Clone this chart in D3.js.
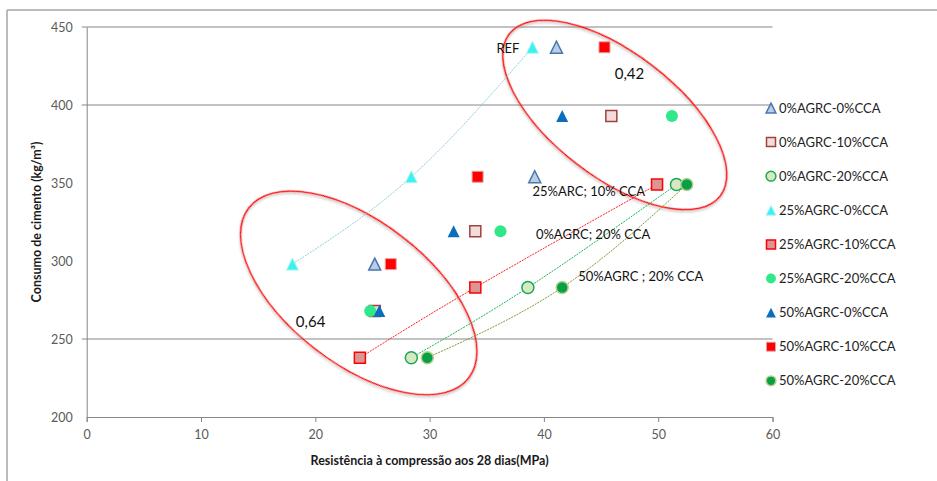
<!DOCTYPE html>
<html>
<head>
<meta charset="utf-8">
<script src="https://cdn.jsdelivr.net/npm/d3@7/dist/d3.min.js"></script>
<style>
  html, body { margin: 0; padding: 0; background: #fff; }
  svg { display: block; font-family: "Lato", "Liberation Sans", sans-serif; }
</style>
</head>
<body>
<svg id="chart" width="937" height="481"></svg>
<script>
// Axis ticks and gridlines
const xTicks = [0, 10, 20, 30, 40, 50, 60];
const yTicks = [200, 250, 300, 350, 400, 450];
const yGrid = [250, 400, 450];

// Series: compressive strength at 28 days (MPa) vs cement content (kg/m³)
const seriesNames = [
  "0%AGRC-0%CCA", "0%AGRC-10%CCA", "0%AGRC-20%CCA",
  "25%AGRC-0%CCA", "25%AGRC-10%CCA", "25%AGRC-20%CCA",
  "50%AGRC-0%CCA", "50%AGRC-10%CCA", "50%AGRC-20%CCA"
];
const strength_0A_0C = [41.1, 39.2, 25.2];
const cement_0A_0C = [437, 354, 298];
const strength_0A_10C = [45.9, 34.0, 25.2];
const cement_0A_10C = [393, 319, 268];
const strength_0A_20C = [51.6, 38.6, 28.4];
const cement_0A_20C = [349, 283, 238];
const strength_25A_0C = [39.0, 28.4, 18.0];
const cement_25A_0C = [437, 354, 298];
const strength_25A_10C = [49.9, 34.0, 23.9];
const cement_25A_10C = [349, 283, 238];
const strength_25A_20C = [51.2, 36.2, 24.8];
const cement_25A_20C = [393, 319, 268];
const strength_50A_0C = [41.6, 32.1, 25.6];
const cement_50A_0C = [393, 319, 268];
const strength_50A_10C = [45.3, 34.2, 26.6];
const cement_50A_10C = [437, 354, 298];
const strength_50A_20C = [52.5, 41.6, 29.8];
const cement_50A_20C = [349, 283, 238];

const seriesX = [strength_0A_0C, strength_0A_10C, strength_0A_20C, strength_25A_0C, strength_25A_10C,
                 strength_25A_20C, strength_50A_0C, strength_50A_10C, strength_50A_20C];
const seriesY = [cement_0A_0C, cement_0A_10C, cement_0A_20C, cement_25A_0C, cement_25A_10C,
                 cement_25A_20C, cement_50A_0C, cement_50A_10C, cement_50A_20C];

// Marker appearance per series
const styles = [
  { shape: "tri", fill: "#b9cde5", stroke: "#4a76ae", sw: 1.5 },
  { shape: "sq",  fill: "#f2dcdb", stroke: "#a0413e", sw: 1.5 },
  { shape: "cir", fill: "#d7e9c4", stroke: "#1aa851", sw: 1.5 },
  { shape: "tri", fill: "#3ff0f0", stroke: "#aef7f7", sw: 1 },
  { shape: "sq",  fill: "#d99694", stroke: "#ff0000", sw: 1.5 },
  { shape: "cir", fill: "#2fe887", stroke: "none", sw: 0 },
  { shape: "tri", fill: "#0a6ebd", stroke: "none", sw: 0 },
  { shape: "sq",  fill: "#ff0000", stroke: "#e8a0a0", sw: 1 },
  { shape: "cir", fill: "#07a045", stroke: "#b9cf8e", sw: 1.5 }
];

// Trend lines drawn through selected series
const trendSeries = [3, 4, 2, 8];
const trendColors = ["#8fcfe0", "#ff2020", "#19b45a", "#7f9a3a"];

const svg = d3.select("#chart");
const x = d3.scaleLinear().domain([0, 60]).range([86.7, 772.5]);
const y = d3.scaleLinear().domain([200, 450]).range([417, 27]);

// Outer frame
svg.append("line").attr("x1", 7).attr("x2", 937).attr("y1", 10).attr("y2", 10)
  .attr("stroke", "#a6a6a6").attr("stroke-width", 1.5);
svg.append("line").attr("x1", 7).attr("x2", 7).attr("y1", 10).attr("y2", 481)
  .attr("stroke", "#a6a6a6").attr("stroke-width", 1.5);

// Gridlines
svg.append("g").selectAll("line").data(yGrid).join("line")
  .attr("x1", x(0) - 5).attr("x2", x(60))
  .attr("y1", d => y(d)).attr("y2", d => y(d))
  .attr("stroke", "#868686").attr("stroke-width", 1);

// Y axis
const yAxis = svg.append("g").attr("transform", `translate(${x(0)},0)`)
  .call(d3.axisLeft(y).tickValues(yTicks).tickSize(0).tickPadding(14));
yAxis.select(".domain").attr("stroke", "#868686");
yAxis.selectAll("text").attr("fill", "#5a5a5a").style("font-size", "12.5px")
  .style("font-family", "Lato, sans-serif");

// X axis
const xAxis = svg.append("g").attr("transform", `translate(0,${y(200)})`)
  .call(d3.axisBottom(x).tickValues(xTicks).tickSize(5).tickPadding(8));
xAxis.select(".domain").attr("stroke", "#868686");
xAxis.selectAll(".tick line").attr("stroke", "#868686");
xAxis.selectAll("text").attr("fill", "#5a5a5a").style("font-size", "12.5px")
  .style("font-family", "Lato, sans-serif");

// Axis titles
svg.append("text").attr("x", x(30)).attr("y", 465).attr("text-anchor", "middle")
  .style("font-size", "12.5px").style("font-weight", "bold").attr("fill", "#1a1a1a")
  .text("Resistência à compressão aos 28 dias(MPa)");
svg.append("text").attr("transform", `translate(41,${y(325)}) rotate(-90)`).attr("text-anchor", "middle")
  .style("font-size", "12.5px").style("font-weight", "bold").attr("fill", "#1a1a1a")
  .text("Consumo de cimento (kg/m³)");

// Annotation ellipses (w/c ratio groups)
const defs = svg.append("defs");
const f = defs.append("filter").attr("id", "shadow").attr("x", "-20%").attr("y", "-20%")
  .attr("width", "140%").attr("height", "140%");
f.append("feDropShadow").attr("dx", 1).attr("dy", 1.5).attr("stdDeviation", 1.2)
  .attr("flood-color", "#777").attr("flood-opacity", 0.55);

const ellipses = [
  { cx: 46.2, cy: 393.6, rx: 133, ry: 62, angle: 37.5 },
  { cx: 23.8, cy: 279.5, rx: 139, ry: 71, angle: 37.7 }
];
svg.append("g").selectAll("ellipse").data(ellipses).join("ellipse")
  .attr("transform", d => `translate(${x(d.cx)},${y(d.cy)}) rotate(${d.angle})`)
  .attr("rx", d => d.rx).attr("ry", d => d.ry)
  .attr("fill", "none").attr("stroke", "#ff0000").attr("stroke-width", 1.5)
  .attr("filter", "url(#shadow)");

// Trend lines
const line = d3.line().x(d => x(d[0])).y(d => y(d[1])).curve(d3.curveNatural);
trendSeries.forEach((si, k) => {
  const pts = seriesX[si].map((v, i) => [v, seriesY[si][i]]).sort((a, b) => a[0] - b[0]);
  svg.append("path").attr("d", line(pts)).attr("fill", "none")
    .attr("stroke", trendColors[k]).attr("stroke-width", 1)
    .attr("stroke-dasharray", "2,1");
});

// Marker path generator
function markerPath(shape, s) {
  const h = s / 2;
  if (shape === "tri") return `M0,${-h}L${h},${h}L${-h},${h}Z`;
  if (shape === "sq") return `M${-h},${-h}H${h}V${h}H${-h}Z`;
  return d3.arc()({ innerRadius: 0, outerRadius: h, startAngle: 0, endAngle: 2 * Math.PI });
}
const markerSize = { tri: 12, sq: 11, cir: 12 };

// Data markers
seriesNames.forEach((name, si) => {
  const st = styles[si];
  const pts = seriesX[si].map((v, i) => [v, seriesY[si][i]]);
  svg.append("g").selectAll("path").data(pts).join("path")
    .attr("transform", d => `translate(${x(d[0])},${y(d[1])})`)
    .attr("d", markerPath(st.shape, markerSize[st.shape]))
    .attr("fill", st.fill).attr("stroke", st.stroke).attr("stroke-width", st.sw);
});

// Text annotations
const annot = svg.append("g").style("font-family", "Lato, sans-serif").attr("fill", "#111");
annot.append("text").attr("x", x(strength_25A_0C[0]) - 13).attr("y", y(cement_25A_0C[0]) + 6)
  .attr("text-anchor", "end").style("font-size", "13px").text("REF");
annot.append("text").attr("x", x(46.2)).attr("y", y(416.5)).style("font-size", "15px").text("0,42");
annot.append("text").attr("x", x(18.3)).attr("y", y(257.5)).style("font-size", "15px").text("0,64");
annot.append("text").attr("x", x(39.0)).attr("y", y(341.8)).style("font-size", "13px").text("25%ARC; 10% CCA");
annot.append("text").attr("x", x(39.3)).attr("y", y(314)).style("font-size", "13px").text("0%AGRC; 20% CCA");
annot.append("text").attr("x", x(43.0)).attr("y", y(287)).style("font-size", "13px").text("50%AGRC ; 20% CCA");

// Legend
const legend = svg.append("g").attr("transform", "translate(771,108)");
const li = legend.selectAll("g").data(seriesNames).join("g")
  .attr("transform", (d, i) => `translate(0,${i * 34.1})`);
li.append("path")
  .attr("d", (d, i) => markerPath(styles[i].shape, markerSize[styles[i].shape] * 0.82))
  .attr("fill", (d, i) => styles[i].fill)
  .attr("stroke", (d, i) => styles[i].stroke)
  .attr("stroke-width", (d, i) => styles[i].sw);
li.append("text").attr("x", 8).attr("dy", "0.35em")
  .style("font-size", "13px").attr("fill", "#222").text(d => d);
</script>
</body>
</html>
